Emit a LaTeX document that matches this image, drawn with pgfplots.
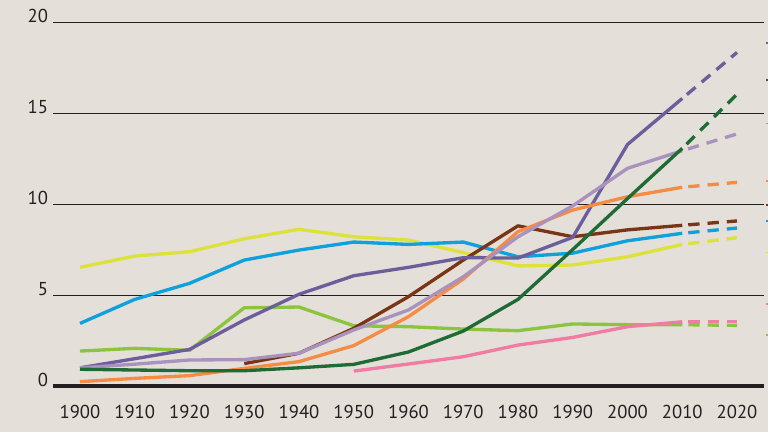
\documentclass[border=0pt]{standalone}
\usepackage{pgfplots}
\pgfplotsset{compat=1.18}
\usepackage{fontspec}
\setmainfont{PT Sans}
\definecolor{bg}{HTML}{E4E0D9}
\definecolor{ink}{HTML}{231F20}
\definecolor{cyel}{HTML}{DCE23A}
\definecolor{cblue}{HTML}{0EA1DE}
\definecolor{cpur}{HTML}{6B5E9B}
\definecolor{clpur}{HTML}{A992BD}
\definecolor{cbrown}{HTML}{7A3517}
\definecolor{corange}{HTML}{F68B43}
\definecolor{clgreen}{HTML}{8BC53F}
\definecolor{cdgreen}{HTML}{1F6B35}
\definecolor{cpink}{HTML}{F07BA3}
\begin{document}
\begin{tikzpicture}
\begin{axis}[
  set layers,
  x=4.10625pt, y=13.65pt,
  xmin=1895.07, xmax=2024.93, ymin=0, ymax=20,
  axis x line=bottom, axis y line=left,
  x axis line style={line width=3pt, color=ink, -},
  y axis line style={draw=none},
  xtick={1900,1910,1920,1930,1940,1950,1960,1970,1980,1990,2000,2010,2020},
  xticklabels={1900,1910,1920,1930,1940,1950,1960,1970,1980,1990,2000,2010,2020},
  ytick={0,5,10,15,20},
  yticklabels={0,5,10,15,20},
  ymajorgrids, grid style={line width=0.75pt, color=ink},
  major tick length=0pt,
  tick label style={font=\fontsize{14}{16}\selectfont, color=ink},
  yticklabel style={anchor=base east, inner sep=0pt, xshift=-3.5pt},
  xticklabel style={anchor=base, inner sep=0pt, yshift=-24pt},
  /pgf/number format/assume math mode=true,
  clip=false,
  solid line/.style={line width=2.5pt, line join=round, line cap=butt},
  dash line/.style={line width=2.5pt, line cap=butt, dash pattern=on 8.5pt off 6pt, dash phase=10pt},
  stub/.style={line width=1.2pt},
]
\begin{pgfonlayer}{axis background}
\fill[bg] (axis cs:1885.39,-2.527) rectangle (axis cs:2025.66,21.209);
\end{pgfonlayer}
\coordinate (bbA) at (axis cs:1885.39,-2.527);
\coordinate (bbB) at (axis cs:2025.66,21.209);

% yellow
\addplot[cyel, solid line] coordinates {(1900,6.52) (1910,7.14) (1920,7.38) (1930,8.09) (1940,8.61) (1950,8.2) (1960,8.02) (1970,7.33) (1980,6.6) (1990,6.65) (2000,7.1) (2010,7.78)};
\addplot[cyel, dash line] coordinates {(2010,7.78) (2020,8.15)};
% blue
\addplot[cblue, solid line] coordinates {(1900,3.44) (1910,4.76) (1920,5.64) (1930,6.92) (1940,7.47) (1950,7.91) (1960,7.78) (1970,7.91) (1980,7.1) (1990,7.3) (2000,7.98) (2010,8.39)};
\addplot[cblue, dash line] coordinates {(2010,8.39) (2020,8.68)};
% light green
\addplot[clgreen, solid line] coordinates {(1900,1.92) (1910,2.07) (1920,1.96) (1930,4.3) (1940,4.34) (1950,3.31) (1960,3.26) (1970,3.13) (1980,3.04) (1990,3.41) (2000,3.37) (2010,3.37)};
\addplot[clgreen, dash line] coordinates {(2010,3.37) (2020,3.33)};
% pink
\addplot[cpink, solid line] coordinates {(1950,0.82) (1960,1.21) (1970,1.61) (1980,2.25) (1990,2.67) (2000,3.26) (2010,3.53)};
\addplot[cpink, dash line] coordinates {(2010,3.53) (2020,3.53)};
% brown
\addplot[cbrown, solid line] coordinates {(1930,1.23) (1940,1.8) (1950,3.17) (1960,4.91) (1970,6.92) (1980,8.8) (1990,8.2) (2000,8.58) (2010,8.83)};
\addplot[cbrown, dash line] coordinates {(2010,8.83) (2020,9.07)};
% dark purple
\addplot[cpur, solid line] coordinates {(1900,1.0) (1910,1.5) (1920,2.01) (1930,3.63) (1940,5.04) (1950,6.06) (1960,6.52) (1970,7.05) (1980,7.03) (1990,8.17) (2000,13.27) (2010,15.8)};
\addplot[cpur, dash line] coordinates {(2010,15.8) (2020,18.33)};
% orange
\addplot[corange, solid line] coordinates {(1900,0.24) (1910,0.42) (1920,0.57) (1930,0.97) (1940,1.34) (1950,2.22) (1960,3.81) (1970,5.88) (1980,8.48) (1990,9.67) (2000,10.4) (2010,10.92)};
\addplot[corange, dash line] coordinates {(2010,10.92) (2020,11.19)};
% light purple
\addplot[clpur, solid line] coordinates {(1900,1.0) (1910,1.2) (1920,1.43) (1930,1.45) (1940,1.8) (1950,3.08) (1960,4.18) (1970,6.0) (1980,8.2) (1990,9.9) (2000,11.96) (2010,12.93)};
\addplot[clpur, dash line] coordinates {(2010,12.93) (2020,13.85)};
% dark green
\addplot[cdgreen, solid line] coordinates {(1900,0.92) (1910,0.88) (1920,0.84) (1930,0.84) (1940,1.0) (1950,1.19) (1960,1.87) (1970,3.02) (1980,4.76) (1990,7.5) (2000,10.3) (2010,13.06)};
\addplot[cdgreen, dash line] coordinates {(2010,13.06) (2020,16.03)};

% label leader stubs at the right edge
\addplot[cpur, stub] coordinates {(2025.3,18.83) (2025.66,18.83)};
\addplot[cdgreen, stub] coordinates {(2025.3,16.8) (2025.66,16.8)};
\addplot[clpur, stub] coordinates {(2025.3,14.43) (2025.66,14.43)};
\addplot[corange, stub] coordinates {(2025.3,11.28) (2025.66,11.28)};
\addplot[cbrown, stub] coordinates {(2025.3,9.93) (2025.66,9.93)};
\addplot[cblue, stub] coordinates {(2025.3,9.07) (2025.66,9.07)};
\addplot[cyel, stub] coordinates {(2025.3,7.33) (2025.66,7.33)};
\addplot[cpink, stub] coordinates {(2025.3,4.52) (2025.66,4.52)};
\addplot[clgreen, stub] coordinates {(2025.3,2.8) (2025.66,2.8)};
\end{axis}
\pgfresetboundingbox
\path (bbA) rectangle (bbB);
\end{tikzpicture}
\end{document}
